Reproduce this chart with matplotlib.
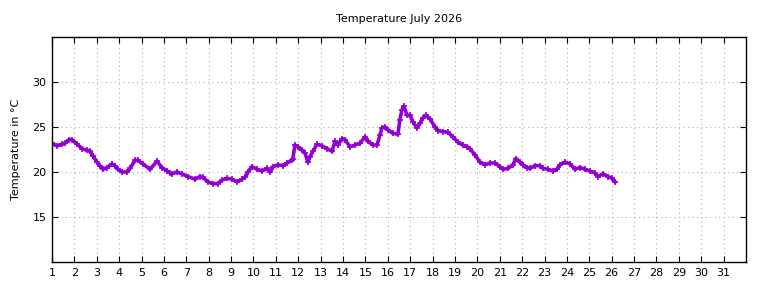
import matplotlib
matplotlib.use("Agg")
import matplotlib.pyplot as plt

# day of month (fractional) and temperature readings
days = [
	1.00, 1.22, 1.45, 1.58, 1.76, 1.89, 2.12, 2.34, 2.56, 2.70,
	2.83, 3.01, 3.14, 3.28, 3.46, 3.68, 3.81, 3.95, 4.13, 4.35,
	4.48, 4.71, 4.84, 5.06, 5.38, 5.69, 5.91, 6.14, 6.27, 6.36,
	6.58, 6.81, 7.07, 7.39, 7.61, 7.74, 7.97, 8.19, 8.41, 8.59,
	8.82, 9.04, 9.26, 9.49, 9.62, 9.75, 9.93, 10.16, 10.38, 10.60,
	10.74, 10.87, 11.09, 11.32, 11.50, 11.72, 11.76, 11.85, 11.99, 12.17,
	12.30, 12.43, 12.52, 12.66, 12.84, 13.06, 13.28, 13.51, 13.64, 13.77,
	13.95, 14.09, 14.31, 14.53, 14.76, 14.98, 15.11, 15.34, 15.52, 15.65,
	15.74, 15.87, 16.01, 16.23, 16.45, 16.54, 16.63, 16.72, 16.86, 16.99,
	17.12, 17.30, 17.44, 17.57, 17.70, 17.88, 18.11, 18.24, 18.46, 18.69,
	18.91, 19.13, 19.36, 19.54, 19.67, 19.89, 20.12, 20.34, 20.56, 20.79,
	21.01, 21.14, 21.37, 21.59, 21.72, 21.90, 22.04, 22.22, 22.35, 22.57,
	22.80, 22.93, 23.15, 23.38, 23.56, 23.69, 23.91, 24.14, 24.36, 24.58,
	24.81, 25.03, 25.25, 25.39, 25.61, 25.83, 26.01, 26.15,
]
temps = [
	23.2, 22.9, 23.1, 23.2, 23.6, 23.6, 23.1, 22.6, 22.4, 22.3,
	21.8, 21.1, 20.7, 20.3, 20.5, 20.9, 20.7, 20.3, 20.0, 20.0,
	20.4, 21.3, 21.3, 20.9, 20.3, 21.2, 20.5, 20.1, 19.9, 19.8,
	20.0, 19.8, 19.5, 19.2, 19.5, 19.4, 18.9, 18.7, 18.7, 19.1,
	19.3, 19.2, 18.9, 19.2, 19.4, 20.0, 20.6, 20.3, 20.1, 20.4,
	20.0, 20.6, 20.8, 20.7, 21.0, 21.3, 21.5, 23.0, 22.8, 22.4,
	22.1, 21.1, 21.7, 22.3, 23.1, 22.9, 22.6, 22.3, 23.4, 23.0,
	23.7, 23.6, 22.8, 23.0, 23.2, 23.9, 23.4, 23.0, 23.0, 24.1,
	24.9, 25.0, 24.7, 24.3, 24.2, 25.8, 26.9, 27.3, 26.3, 26.3,
	25.6, 24.9, 25.4, 26.0, 26.3, 25.9, 25.0, 24.6, 24.5, 24.4,
	23.9, 23.3, 23.0, 22.8, 22.6, 21.9, 21.1, 20.8, 21.0, 21.0,
	20.6, 20.3, 20.4, 20.8, 21.5, 21.1, 20.8, 20.5, 20.4, 20.7,
	20.7, 20.4, 20.3, 20.1, 20.3, 20.8, 21.1, 20.9, 20.3, 20.5,
	20.3, 20.1, 19.9, 19.5, 19.8, 19.5, 19.3, 18.9,
]

xticks = list(range(1, 32))
yticks = [15, 20, 25, 30]

plt.rcParams['font.family'] = 'DejaVu Sans'
plt.rcParams['font.size'] = 8

fig = plt.figure(figsize=(7.68, 2.88), dpi=100)
ax = fig.add_axes([52/768, 1 - 262/288, 694/768, 225/288])

ax.plot(days, temps, color='#9400d3', linewidth=2.6)
ax.plot(days, temps, '+', color='#9400d3', markersize=4.5, markeredgewidth=1.2)

ax.set_xlim(1, 32)
ax.set_ylim(10, 35)
ax.set_xticks(xticks)
ax.set_yticks(yticks)
ax.tick_params(direction='in', length=4, top=True, right=True, labelsize=8, pad=4)
ax.grid(True, color='#b0b0b0', linestyle=(0, (1, 3)), linewidth=0.8)
for s in ax.spines.values():
	s.set_linewidth(1)

ax.set_title('Temperature July 2026', fontsize=8, pad=11)
ax.set_ylabel('Temperature in °C', fontsize=8, labelpad=8)

fig.savefig('out.png', dpi=100)
